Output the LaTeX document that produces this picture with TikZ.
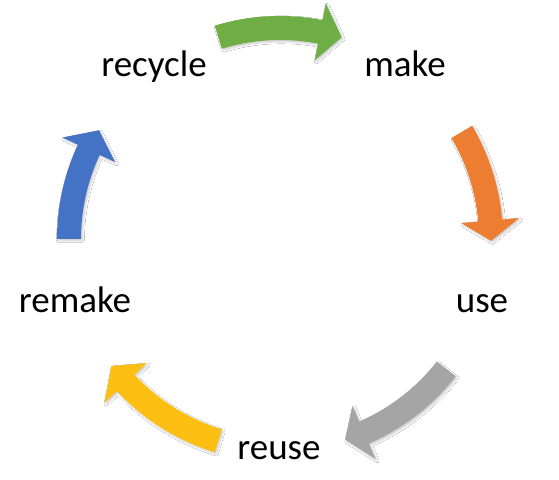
\documentclass[tikz,border=0pt]{standalone}
\usepackage{fontspec}
\setmainfont{Carlito}
\usetikzlibrary{shadows.blur}
\definecolor{cgreen}{HTML}{6FAE45}
\definecolor{corange}{HTML}{ED7D31}
\definecolor{cgray}{HTML}{A5A5A5}
\definecolor{cgold}{HTML}{FDBF12}
\definecolor{cblue}{HTML}{4472C4}
\newcommand\cycarrow[4]{%
  \path[cyc=#1] (#2:223) arc[start angle=#2, end angle=#3, radius=223]
    -- (#3:240) -- (#4:211) -- (#3:182) -- (#3:199)
    arc[start angle=#3, end angle=#2, radius=199] -- cycle;}
\begin{document}
\begin{tikzpicture}[x=1pt,y=1pt,
  lbl/.style={font=\fontsize{37}{41}\selectfont, anchor=base, inner sep=0pt},
  cyc/.style={fill=#1, draw=none, blur shadow={shadow xshift=1.5pt, shadow yshift=-1.8pt, shadow blur steps=6, shadow opacity=20}}]
\useasboundingbox (0,0) rectangle (559,479);
\fill[white] (0,0) rectangle (559,479);
\node[lbl] (recycle) at (154,402) {recycle};
\node[lbl] (make) at (405,402) {make};
\node[lbl] (use) at (482,166) {use};
\node[lbl] (reuse) at (279,20) {reuse};
\node[lbl] (remake) at (75,166) {remake};
\begin{scope}[shift={(280,240)}]
  \cycarrow{cgreen}{107}{79}{73}
  \cycarrow{corange}{30.5}{5}{-0.5}
  \cycarrow{cgray}{-38}{-66.5}{-72}
  \cycarrow{cgold}{253}{223}{217}
  \cycarrow{cblue}{180}{155}{149}
\end{scope}
\end{tikzpicture}
\end{document}
